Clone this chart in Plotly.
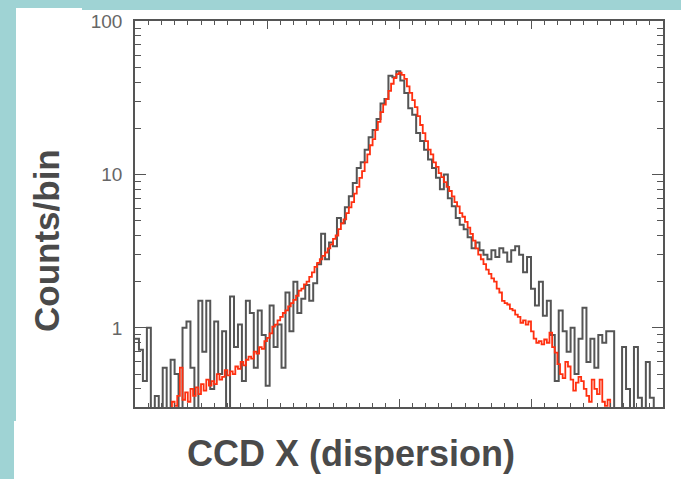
import numpy as np
import plotly.graph_objects as go

# Observed spectrum: counts per 3-unit bin, starting at CCD X = 0
observed_start = 0.0
observed_width = 3.0
observed_counts = [
    0.85, 0.72, 0.45, 1.0, 0.2, 0.36, 0.2, 0.55, 0.25, 0.62,
    0.5, 0.2, 1.0, 1.1, 0.55, 0.22, 1.5, 0.7, 1.5, 0.4,
    1.1, 0.5, 0.95, 0.25, 1.6, 0.75, 1.05, 0.45, 1.5, 1.25,
    0.55, 1.3, 0.9, 0.42, 1.4, 0.75, 1.05, 0.55, 1.7, 0.95,
    2.0, 1.25, 1.55, 1.9, 1.5, 1.95, 2.6, 4.1, 2.8, 3.6,
    3.4, 5.2, 4.8, 6.1, 7.2, 8.8, 11.0, 12.0, 14.5, 17.5,
    19.5, 23.0, 29.0, 31.0, 44.0, 43.0, 47.0, 41.0, 34.0, 27.0,
    24.5, 18.6, 16.5, 14.5, 12.5, 11.0, 9.5, 8.0, 10.0, 7.0,
    6.2, 5.2, 4.7, 4.4, 3.9, 3.3, 3.6, 3.2, 3.0, 2.8,
    3.2, 2.9, 3.3, 3.1, 2.7, 3.2, 3.4, 3.0, 2.3, 2.9,
    1.8, 1.4, 2.0, 1.2, 1.5, 0.9, 0.45, 1.3, 0.95, 0.7,
    1.0, 0.5, 0.85, 1.35, 0.6, 0.85, 0.55, 0.9, 0.8, 0.95,
    0.95, 0.3, 0.2, 0.75, 0.4, 0.2, 0.75, 0.35, 0.2, 0.6,
    0.35, 0.2,
]

# Model spectrum: counts per 2-unit bin, starting at CCD X = 26
model_start = 26.0
model_width = 2.0
model_counts = [
    0.30, 0.33, 0.31, 0.36, 0.55, 0.34, 0.38, 0.33, 0.40, 0.36,
    0.41, 0.37, 0.43, 0.39, 0.46, 0.42, 0.45, 0.43, 0.50, 0.46,
    0.48, 0.53, 0.49, 0.52, 0.50, 0.56, 0.54, 0.60, 0.57, 0.62,
    0.65, 0.63, 0.70, 0.68, 0.75, 0.73, 0.82, 0.86, 0.92, 1.02,
    1.05, 1.12, 1.18, 1.25, 1.30, 1.38, 1.45, 1.52, 1.62, 1.75,
    1.80, 1.92, 2.0, 2.15, 2.3, 2.5, 2.65, 2.8, 2.95, 3.1,
    3.3, 3.5, 3.8, 4.0, 4.4, 4.8, 5.1, 5.6, 6.1, 6.6,
    7.5, 8.3, 9.5, 10.5, 12.0, 13.5, 15.5, 17.0, 19.5, 22.0,
    25.5, 28.5, 31.0, 35.0, 39.0, 42.5, 45.0, 46.0, 44.5, 42.0,
    37.5, 34.0, 30.5, 27.5, 24.0, 21.0, 18.6, 16.5, 14.5, 13.5,
    12.0, 11.2, 10.2, 9.6, 8.9, 8.3, 7.8, 7.2, 6.6, 6.2,
    5.6, 5.3, 4.9, 4.5, 4.1, 3.7, 3.3, 3.0, 2.8, 2.6,
    2.4, 2.25, 2.1, 2.0, 1.8, 1.7, 1.5, 1.45, 1.42, 1.33,
    1.3, 1.22, 1.18, 1.08, 1.12, 1.05, 1.1, 0.95, 0.85, 0.80,
    0.82, 0.78, 0.84, 0.80, 0.93, 0.75, 0.69, 0.58, 0.5, 0.47,
    0.6, 0.56, 0.46, 0.39, 0.44, 0.48, 0.45, 0.40, 0.36, 0.33,
    0.46, 0.40, 0.37, 0.46, 0.33, 0.31, 0.34, 0.30,
]

y_tick_values = [1, 10, 100]
y_tick_labels = ["1", "10", "100"]
x_title = "CCD X (dispersion)"
y_title = "Counts/bin"


def step_xy(start, width, counts):
    """Bin edges plus repeated last value for an 'hv' step outline."""
    edges = start + width * np.arange(len(counts) + 1)
    return edges, list(counts) + [counts[-1]]


ox, oy = step_xy(observed_start, observed_width, observed_counts)
mx, my = step_xy(model_start, model_width, model_counts)

fig = go.Figure()
fig.add_trace(go.Scatter(x=ox, y=oy, mode="lines", line_shape="hv",
                         line=dict(color="#555555", width=2),
                         showlegend=False, hoverinfo="skip"))
fig.add_trace(go.Scatter(x=mx, y=my, mode="lines", line_shape="hv",
                         line=dict(color="#ff3010", width=1.8),
                         showlegend=False, hoverinfo="skip"))

# plot area in pixels
L, R, T, B = 135, 663, 21, 407
W, H = 681, 479


def px(xp):
    return (xp - L) / (R - L)


def py(yp):
    return (B - yp) / (B - T)


shapes = [
    dict(type="rect", xref="paper", yref="paper", layer="below",
         x0=px(16), x1=px(82), y0=py(422), y1=py(8),
         fillcolor="white", line_width=0),
    dict(type="rect", xref="paper", yref="paper", layer="below",
         x0=px(81), x1=px(W + 2), y0=py(H + 2), y1=py(10),
         fillcolor="white", line_width=0),
    dict(type="rect", xref="paper", yref="paper", layer="below",
         x0=px(14), x1=px(82), y0=py(H + 2), y1=py(421),
         fillcolor="white", line_width=0),
]

minor_log = [m * d for d in (0.1, 1, 10) for m in range(2, 10)]

fig.update_layout(
    width=W, height=H,
    margin=dict(l=L, r=W - R, t=T, b=H - B, pad=0),
    paper_bgcolor="#9fd3d4",
    plot_bgcolor="white",
    shapes=shapes,
    xaxis=dict(
        range=[0, 400], showgrid=False, zeroline=False,
        showline=True, linecolor="#555555", linewidth=1.5, mirror="ticks",
        ticks="inside", tickvals=[0, 100, 200, 300, 400], ticklen=8,
        tickwidth=1, tickcolor="#555555", showticklabels=False,
        minor=dict(ticks="inside", dtick=10, tick0=0, ticklen=4,
                   tickwidth=1, tickcolor="#555555", showgrid=False),
    ),
    yaxis=dict(
        type="log", range=[np.log10(0.305), 2.0], showgrid=False,
        zeroline=False, showline=True, linecolor="#555555", linewidth=1.5,
        mirror="ticks", ticks="inside", tickvals=y_tick_values,
        ticktext=y_tick_labels, ticklen=11, tickwidth=1,
        tickcolor="#555555", ticklabelstandoff=7,
        tickfont=dict(family="Liberation Sans, Arial, sans-serif",
                      size=19, color="#666666"),
        minor=dict(ticks="inside", tickvals=minor_log, ticklen=6,
                   tickwidth=1, tickcolor="#555555", showgrid=False),
    ),
    annotations=[
        dict(text=x_title, xref="paper", yref="paper",
             x=px(351), y=py(453), xanchor="center", yanchor="middle",
             showarrow=False,
             font=dict(family="Liberation Sans, Arial, sans-serif",
                       size=36, color="#4a4a4a", weight="bold")),
        dict(text=y_title, xref="paper", yref="paper",
             x=px(46), y=py(241), xanchor="center", yanchor="middle",
             textangle=-90, showarrow=False,
             font=dict(family="Liberation Sans, Arial, sans-serif",
                       size=35, color="#4a4a4a", weight="bold")),
    ],
)

fig.write_html("out.html")
